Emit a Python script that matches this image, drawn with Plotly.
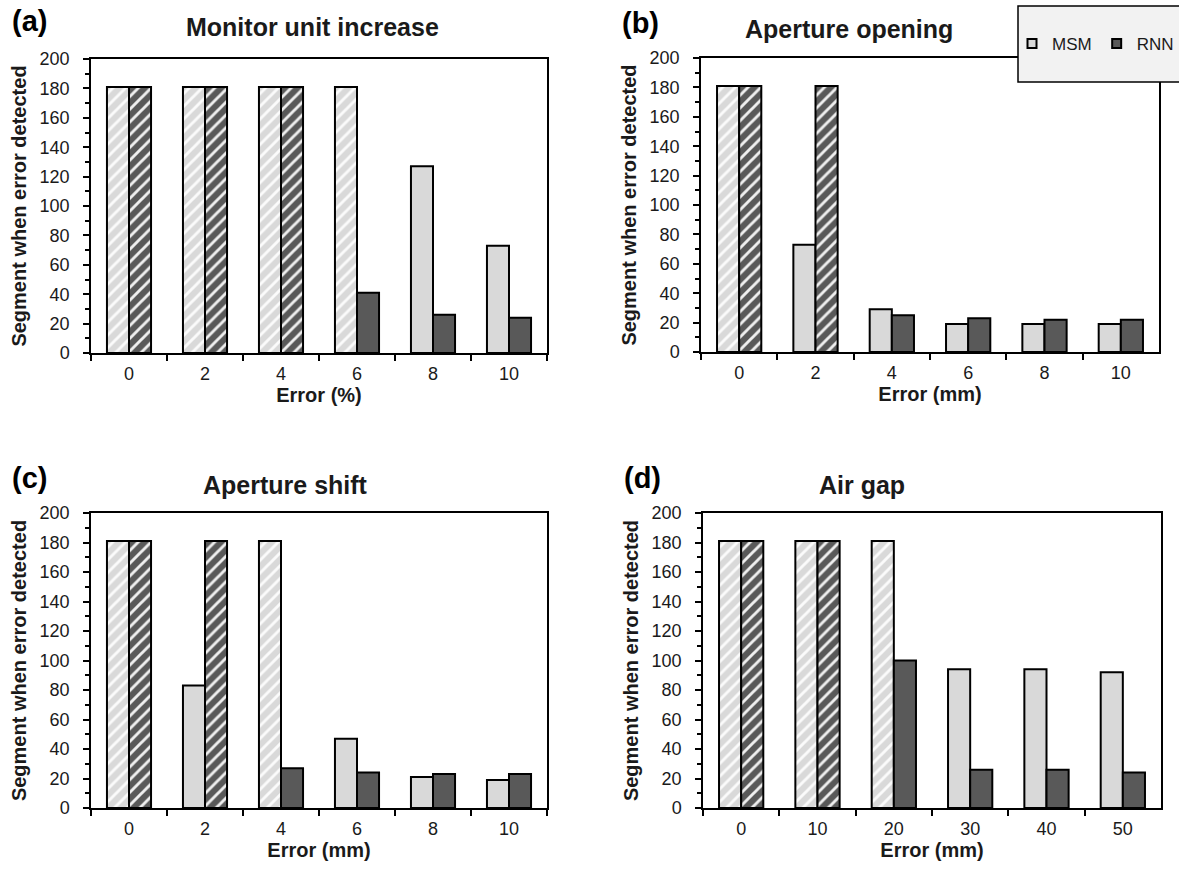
import plotly.graph_objects as go

W, H = 1179, 875

# ---------------- data ----------------
series_names = ["MSM", "RNN"]
panel_titles = ["Monitor unit increase", "Aperture opening", "Aperture shift", "Air gap"]
panel_letters = ["(a)", "(b)", "(c)", "(d)"]
x_titles = ["Error (%)", "Error (mm)", "Error (mm)", "Error (mm)"]
y_title = "Segment when error detected"

cats_a = ["0", "2", "4", "6", "8", "10"]
cats_b = ["0", "2", "4", "6", "8", "10"]
cats_c = ["0", "2", "4", "6", "8", "10"]
cats_d = ["0", "10", "20", "30", "40", "50"]

msm_a = [181, 181, 181, 181, 127, 73]
rnn_a = [181, 181, 181, 41, 26, 24]
msm_b = [181, 73, 29, 19, 19, 19]
rnn_b = [181, 181, 25, 23, 22, 22]
msm_c = [181, 83, 181, 47, 21, 19]
rnn_c = [181, 181, 27, 24, 23, 23]
msm_d = [181, 181, 181, 94, 94, 92]
rnn_d = [181, 181, 100, 26, 26, 24]

not_detected_value = 181  # bars at this value (never detected) are hatched

y_ticks = [0, 20, 40, 60, 80, 100, 120, 140, 160, 180, 200]

# ---------------- style ----------------
FONT = "Liberation Sans, Arial, sans-serif"
C_MSM = "#d9d9d9"
C_RNN = "#595959"
TXT = "#1a1a1a"


def px_x(v):
    return v / W


def px_y(v):
    return 1 - v / H


# panel domains (pixels): x0, x1, ytop, ybottom
domains = [
    (91, 547, 59, 353),
    (701, 1159, 58, 352),
    (91, 547, 513, 808),
    (703, 1161, 513, 808),
]

cats = [cats_a, cats_b, cats_c, cats_d]
msm = [msm_a, msm_b, msm_c, msm_d]
rnn = [rnn_a, rnn_b, rnn_c, rnn_d]

fig = go.Figure()

for i in range(4):
    xa = "x" if i == 0 else f"x{i + 1}"
    ya = "y" if i == 0 else f"y{i + 1}"
    for name, vals, col in ((series_names[0], msm[i], C_MSM), (series_names[1], rnn[i], C_RNN)):
        shapes = ["/" if v >= not_detected_value else "" for v in vals]
        fig.add_trace(go.Bar(
            x=cats[i], y=vals, name=name, xaxis=xa, yaxis=ya,
            showlegend=False, offsetgroup=name,
            marker=dict(
                color=col,
                line=dict(color="black", width=2),
                pattern=dict(shape=shapes, fgcolor="white", bgcolor=col,
                             fgopacity=0.9, size=9, solidity=0.32),
            ),
        ))

# legend entries (solid swatches)
for name, col in ((series_names[0], C_MSM), (series_names[1], C_RNN)):
    fig.add_trace(go.Scatter(
        x=[None], y=[None], mode="markers", name=name, xaxis="x", yaxis="y",
        marker=dict(symbol="square", size=9, color=col, line=dict(color="black", width=2)),
        showlegend=True, hoverinfo="skip",
    ))

layout = dict(
    width=W, height=H, autosize=False,
    margin=dict(l=0, r=0, t=0, b=0),
    paper_bgcolor="white", plot_bgcolor="white",
    barmode="group", bargap=0.42, bargroupgap=0,
    font=dict(family=FONT, color=TXT, size=18),
    showlegend=True,
    legend=dict(
        orientation="h", x=px_x(1012), xanchor="left", y=px_y(44), yanchor="middle",
        bgcolor="rgba(0,0,0,0)", borderwidth=0,
        font=dict(family=FONT, size=17, color=TXT),
        itemwidth=30, tracegroupgap=0,
    ),
)

for i, (x0, x1, yt, yb) in enumerate(domains):
    k = "" if i == 0 else str(i + 1)
    layout["xaxis" + k] = dict(
        domain=[px_x(x0), px_x(x1)], anchor="y" + k,
        type="category", tickson="boundaries", ticks="outside", ticklen=6,
        tickwidth=1.5, tickcolor="black",
        showline=True, linecolor="black", linewidth=1.5, mirror=True,
        showgrid=False, zeroline=False, automargin=False,
        tickfont=dict(family=FONT, size=18, color=TXT),
        ticklabelstandoff=4,
        title=dict(text=x_titles[i], font=dict(family=FONT, size=20, color=TXT, weight="bold"),
                   standoff=0),
        fixedrange=True,
    )
    layout["yaxis" + k] = dict(
        domain=[px_y(yb), px_y(yt)], anchor="x" + k,
        range=[0, 200], tickvals=y_ticks, ticks="outside", ticklen=6,
        tickwidth=1.5, tickcolor="black",
        minor=dict(dtick=10, ticks="outside", ticklen=4, tickwidth=1.5, tickcolor="black", showgrid=False),
        showline=True, linecolor="black", linewidth=1.5, mirror=True,
        showgrid=False, zeroline=False, automargin=False,
        tickfont=dict(family=FONT, size=18, color=TXT),
        ticklabelstandoff=10,
        title=dict(text=y_title, font=dict(family=FONT, size=20, color=TXT, weight="bold"),
                   standoff=8),
        fixedrange=True,
    )

fig.update_layout(**layout)

# titles and panel letters
title_pos = [(312, 27), (849, 29), (285, 485), (862, 485)]
letter_pos = [(30, 21), (640, 23), (30, 478), (642, 478)]
ann = []
for i in range(4):
    tx, ty = title_pos[i]
    ann.append(dict(text=panel_titles[i], x=px_x(tx), y=px_y(ty), xref="paper", yref="paper",
                    xanchor="center", yanchor="middle", showarrow=False,
                    font=dict(family=FONT, size=25, color=TXT, weight="bold")))
    lx, ly = letter_pos[i]
    ann.append(dict(text=panel_letters[i], x=px_x(lx), y=px_y(ly), xref="paper", yref="paper",
                    xanchor="center", yanchor="middle", showarrow=False,
                    font=dict(family=FONT, size=29, color="black", weight="bold")))
fig.update_layout(annotations=ann)

# legend frame
fig.add_shape(type="rect", xref="paper", yref="paper",
              x0=px_x(1018), x1=px_x(1195), y0=px_y(82), y1=px_y(6),
              fillcolor="#f2f2f2", line=dict(color="black", width=1.5), layer="above")

fig.write_html("out.html", config={"displayModeBar": False},
               post_script="document.body.style.margin='0';")
